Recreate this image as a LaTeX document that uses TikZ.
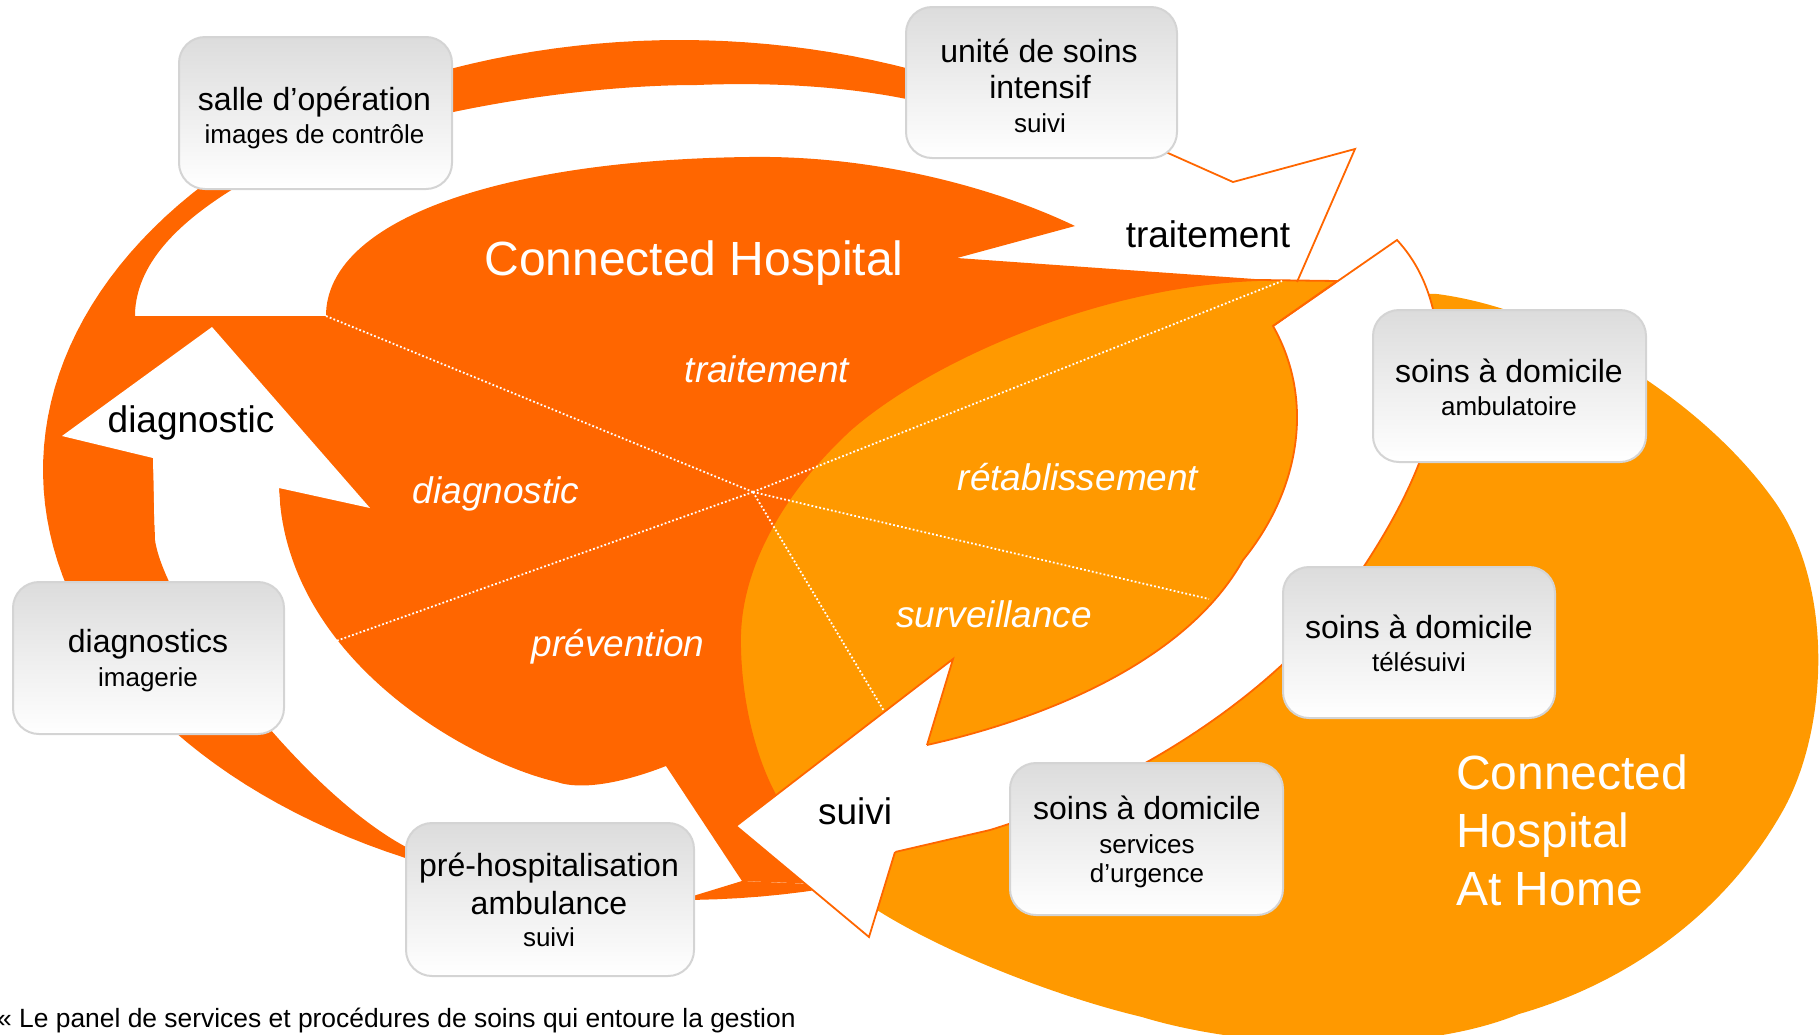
\documentclass[tikz,border=0pt]{standalone}
\usepackage{fontspec}
\setmainfont{Liberation Sans}
\definecolor{dk}{HTML}{FF6600}
\definecolor{lt}{HTML}{FF9900}
\definecolor{boxtop}{HTML}{DCDCDC}
\definecolor{boxmid}{HTML}{EEEEEE}
\definecolor{boxline}{HTML}{D4D4D4}
\newcommand{\myfs}[1]{\fontsize{#1}{#1}\selectfont}
\tikzset{
  box/.style={draw=boxline, line width=2, rounded corners=26, top color=boxtop, bottom color=white, middle color=boxmid, inner sep=0},
  bigt/.style={anchor=base, inner sep=0, font=\myfs{32}},
  smallt/.style={anchor=base, inner sep=0, font=\myfs{26}},
  lab/.style={anchor=base, inner sep=0, font=\myfs{37}},
  ilab/.style={anchor=base, inner sep=0, font=\myfs{37}\itshape, text=white},
  dots/.style={white, line width=1.8, dash pattern=on 1.8pt off 2.2pt},
  edge/.style={dk, line width=1.8, line join=miter},
}
\begin{document}
\begin{tikzpicture}[x=1pt, y=-1pt]
\useasboundingbox (0,0) rectangle (1820,1034);
% outer light shape (Connected Hospital at Home)
\fill[lt] (1345,292) -- (1437,294) .. controls (1560,310) and (1700,400) .. (1770,495)
  .. controls (1835,580) and (1830,730) .. (1781,814)
  .. controls (1720,920) and (1620,985) .. (1519,1014)
  .. controls (1420,1055) and (1250,1050) .. (1142,1017)
  .. controls (1050,995) and (940,950) .. (877,910)
  -- (800,830) -- (790,760) -- (850,450) -- (1100,320) -- cycle;
% white gap (curved arrow)
\fill[white] (1273,326) -- (1397,240) .. controls (1420,265) and (1437,300) .. (1440,360)
  .. controls (1440,440) and (1400,520) .. (1330,615)
  .. controls (1250,710) and (1120,790) .. (990,830) -- (895,852)
  -- (800,790) -- (790,650) -- (1000,450) -- (1250,350) -- cycle;
% dark ring
\fill[dk] plot[domain=75:305, samples=120, variable=\t] ({680+637*cos(\t)},{470+430*sin(\t)})
  -- (1040,150) .. controls (960,95) and (820,80) .. (697,85)
  .. controls (560,85) and (350,120) .. (233,189)
  .. controls (175,225) and (137,265) .. (135,313)
  .. controls (136,380) and (150,420) .. (153,458)
  .. controls (155,490) and (154,515) .. (155,540)
  .. controls (165,610) and (300,790) .. (406,847)
  .. controls (500,890) and (640,900) .. (693,896) -- (742,881) -- cycle;
% dark blob (Connected Hospital)
\fill[dk] (326,316) .. controls (326,220) and (500,160) .. (749,157)
  .. controls (880,155) and (1000,190) .. (1075,226)
  -- (957,258) -- (1297,282) -- (1250,330) -- (1200,450) -- (1000,650) -- (900,760)
  -- (860,830) -- (845,885) -- (742,881) -- (666,766)
  .. controls (620,784) and (580,790) .. (557,782)
  .. controls (470,762) and (285,660) .. (279,488) -- (300,400) -- cycle;
% patch joining ring and blob
\fill[dk] (120,316) -- (326,316) -- (380,515) -- (152,466) -- (125,400) -- cycle;
% inner light shape
\path[fill=lt, draw=dk, line width=1.8] (1337,281) -- (1260,280)
  .. controls (1100,285) and (930,360) .. (850,430)
  .. controls (780,495) and (740,570) .. (740,640)
  .. controls (740,700) and (755,760) .. (778,800)
  -- (850,775) -- (927,745)
  .. controls (1060,715) and (1190,655) .. (1243,560)
  .. controls (1300,490) and (1315,400) .. (1273,326) -- cycle;
% dotted radial lines
\coordinate (c) at (753,492);
\coordinate (d1) at (326,316);
\coordinate (d2) at (336,641);
\coordinate (d3) at (1282,281);
\coordinate (d4) at (1209,599);
\coordinate (d5) at (884,711);
\foreach \p in {d1,d2,d3,d4,d5} \draw[dots] (c) -- (\p);
% diagnostic arrow head (white)
\fill[white] (212,327) -- (370,508) -- (279,488) -- (281,525) -- (154.5,525) -- (153,458) -- (62,436) -- cycle;
% gap outline
\draw[edge] (1273,326) -- (1397,240) .. controls (1420,265) and (1437,300) .. (1440,360)
  .. controls (1440,440) and (1400,520) .. (1330,615)
  .. controls (1250,710) and (1120,790) .. (990,830) -- (895,852);
% suivi arrow head
\fill[white] (736,826) -- (953,659) -- (927,745) -- (895,852) -- (869,937) -- cycle;
\draw[edge] (927,745) -- (953,659) -- (736,826) -- (869,937) -- (895,852);
% traitement arrow outline
\draw[edge] (1150,145) -- (1233,182) -- (1355,149) -- (1297,282);
% boxes
\node[box, minimum width=273, minimum height=152] (bsalle) at (315.5,113) {};
\node[box, minimum width=271, minimum height=151] (bunite) at (1041.5,82.5) {};
\node[box, minimum width=273, minimum height=152] (bamb) at (1509.5,386) {};
\node[box, minimum width=272, minimum height=151] (btele) at (1419,642.5) {};
\node[box, minimum width=273, minimum height=152] (bserv) at (1146.5,839) {};
\node[box, minimum width=288, minimum height=153] (bpre) at (550,899.5) {};
\node[box, minimum width=271, minimum height=152] (bdiag) at (148.5,658) {};
% box texts
\node[bigt] (t1a) at (314.5,110) {salle d’opération};
\node[smallt] (t1b) at (314.5,143) {images de contrôle};
\node[bigt] (t2a) at (1039,62) {unité de soins};
\node[bigt] (t2b) at (1040,98) {intensif};
\node[smallt] (t2c) at (1040,132) {suivi};
\node[bigt] (t3a) at (1509,382) {soins à domicile};
\node[smallt] (t3b) at (1509,415) {ambulatoire};
\node[bigt] (t4a) at (1419,638) {soins à domicile};
\node[smallt] (t4b) at (1419,671) {télésuivi};
\node[bigt] (t5a) at (1147,819) {soins à domicile};
\node[smallt] (t5b) at (1147,853) {services};
\node[smallt] (t5c) at (1147,882) {d’urgence};
\node[bigt] (t6a) at (549,876) {pré-hospitalisation};
\node[bigt] (t6b) at (549,914) {ambulance};
\node[smallt] (t6c) at (549,946) {suivi};
\node[bigt] (t7a) at (148,652) {diagnostics};
\node[smallt] (t7b) at (148,686) {imagerie};
% big titles
\node[anchor=base, inner sep=0, font=\myfs{48}, text=white] (ch) at (694,275) {Connected Hospital};
\node[anchor=base west, inner sep=0, font=\myfs{48}, text=white] (cha) at (1456,789) {Connected};
\node[anchor=base west, inner sep=0, font=\myfs{48}, text=white] (chb) at (1456,847) {Hospital};
\node[anchor=base west, inner sep=0, font=\myfs{48}, text=white] (chc) at (1456,905) {At Home};
% italic sector labels
\node[ilab] (i1) at (767,382) {traitement};
\node[ilab] (i2) at (496,503) {diagnostic};
\node[ilab] (i3) at (618,656) {prévention};
\node[ilab] (i4) at (1078,490) {rétablissement};
\node[ilab] (i5) at (994,627) {surveillance};
% arrow labels
\node[lab] (a1) at (191,432) {diagnostic};
\node[lab] (a2) at (1208,247) {traitement};
\node[lab] (a3) at (855,824) {suivi};
% caption
\node[anchor=base west, inner sep=0, font=\myfs{26.4}] (cap) at (-3,1027) {« Le panel de services et procédures de soins qui entoure la gestion};
\end{tikzpicture}
\end{document}
